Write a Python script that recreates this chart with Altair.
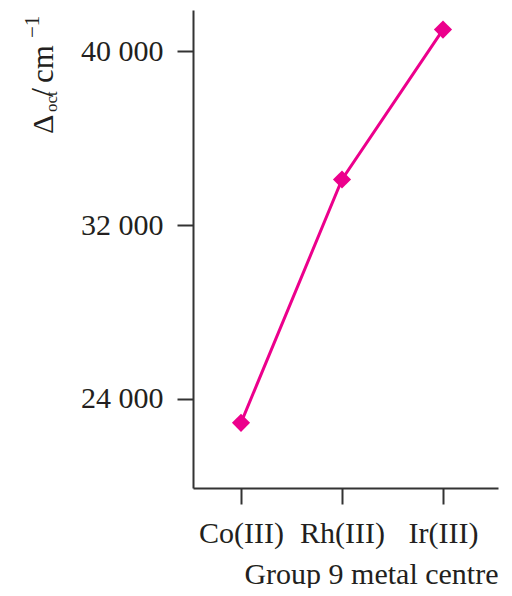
import altair as alt
import pandas as pd

centres = ["Co(III)", "Rh(III)", "Ir(III)"]
delta_oct = [22900, 34100, 41000]
y_ticks = [24000, 32000, 40000]

df = pd.DataFrame({"centre": centres, "delta": delta_oct})

# y-axis title pieces (Δ_oct / cm^-1) drawn as rotated text
title_text = ["Δ", "oct", "/", "cm", "−1"]
title_size = [30, 17, 32, 31, 21]
title_x = [-140, -136, -140, -140, -154]
title_y = [124, 102, 87, 73, 28]

FONT = "Liberation Serif"
INK = "#231F20"
PINK = "#EC008C"
FS = 30

x_enc = alt.X(
    "centre:N",
    sort=centres,
    scale=alt.Scale(type="point", padding=0.51, align=0.466),
    axis=alt.Axis(
        title="Group 9 metal centre",
        labelAngle=0,
        labelFont=FONT,
        labelFontSize=FS,
        labelColor=INK,
        labelPadding=14,
        tickSize=16,
        tickWidth=2,
        tickColor="#333333",
        domainColor="#333333",
        domainWidth=2,
        titleFont=FONT,
        titleFontSize=FS,
        titleFontWeight="normal",
        titleColor=INK,
        titleAnchor="end",
        titleAlign="right",
        titleBaseline="alphabetic",
        titleX=305,
        titleY=95,
    ),
)
y_enc = alt.Y(
    "delta:Q",
    scale=alt.Scale(domain=[19900, 41900], nice=False, zero=False),
    axis=alt.Axis(
        title=None,
        values=y_ticks,
        labelExpr="replace(format(datum.value, ',d'), ',', ' ')",
        labelFont=FONT,
        labelFontSize=FS,
        labelColor=INK,
        labelPadding=14,
        tickSize=16,
        tickWidth=2,
        tickColor="#333333",
        domainColor="#333333",
        domainWidth=2,
        grid=False,
    ),
)

line = alt.Chart(df).mark_line(color=PINK, strokeWidth=3).encode(x=x_enc, y=y_enc)
pts = alt.Chart(df).mark_point(shape="diamond", filled=True, size=330, color=PINK, opacity=1).encode(x=x_enc, y=y_enc)

pieces = []
for t, s, px, py in zip(title_text, title_size, title_x, title_y):
    pieces.append(
        alt.Chart(df.head(1)).mark_text(
            text=t, angle=270, align="left", baseline="alphabetic",
            font=FONT, fontSize=s, color=INK,
        ).encode(x=alt.value(px), y=alt.value(py))
    )

chart = (
    alt.layer(line, pts, *pieces)
    .properties(
        width=305,
        height=478,
        padding={"left": 185, "top": 2, "right": 6, "bottom": 100},
        autosize=alt.AutoSizeParams(type="none"),
    )
    .configure_view(stroke=None)
)

chart.save("out.html", embed_options={"renderer": "svg", "actions": False})
